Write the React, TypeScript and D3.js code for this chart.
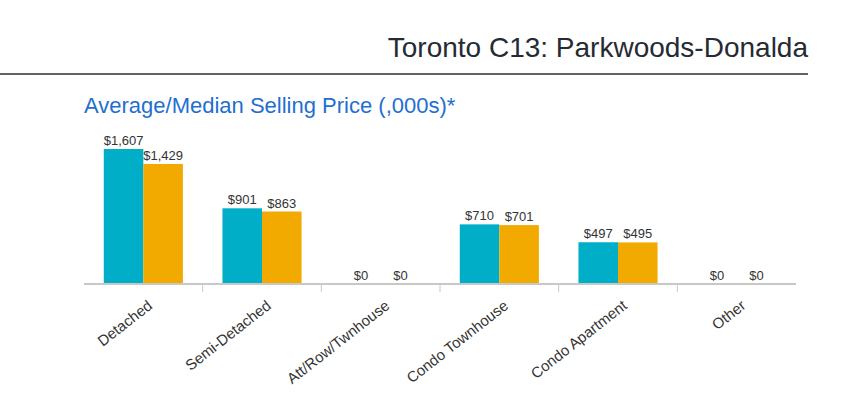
import React from "react";
import * as d3 from "d3";

const categories = ["Detached", "Semi-Detached", "Att/Row/Twnhouse", "Condo Townhouse", "Condo Apartment", "Other"];
const averagePrice = [1607, 901, 0, 710, 497, 0];
const medianPrice = [1429, 863, 0, 701, 495, 0];
const seriesNames = ["Average", "Median"];
const seriesColors = ["#00AEC7", "#F2A900"];

const W = 859;
const H = 397;
const margin = { left: 84, right: 63, top: 130, bottom: 113 };

export default function App() {
  const x = d3.scaleBand().domain(categories).range([margin.left, W - margin.right]).paddingInner(0).paddingOuter(0);
  const inner = d3.scaleBand().domain(seriesNames).range([0, x.bandwidth()]).paddingOuter(0.5).paddingInner(0);
  const y = d3.scaleLinear().domain([0, 1800]).range([H - margin.bottom, H - margin.bottom - 151.2]);
  const baseline = y(0);
  const fmt = (v: number) => "$" + d3.format(",")(v);
  const series = [averagePrice, medianPrice];
  const ticks = [...categories.map((c) => x(c) as number), W - margin.right];

  return (
    <svg width={W} height={H} style={{ position: "absolute", left: 0, top: 0 }} fontFamily="'Liberation Sans', Arial, sans-serif">
      <rect width={W} height={H} fill="#fff" />
      <text x={808} y={57} textAnchor="end" fontSize={28} fill="#262b33">Toronto C13: Parkwoods-Donalda</text>
      <line x1={0} x2={808} y1={74} y2={74} stroke="#2b2f36" strokeWidth={1.5} />
      <text x={84} y={113} fontSize={22} fill="#1F6FD1">Average/Median Selling Price (,000s)*</text>
      {categories.map((c, i) => (
        <g key={c} transform={`translate(${x(c)},0)`}>
          {series.map((s, j) => {
            const bx = inner(seriesNames[j]) as number;
            return (
              <g key={j}>
                {s[i] > 0 && (
                  <rect x={bx} y={y(s[i])} width={inner.bandwidth()} height={baseline - y(s[i])} fill={seriesColors[j]} />
                )}
                <text x={bx + inner.bandwidth() / 2} y={y(s[i]) - 4} textAnchor="middle" fontSize={13} fill="#333">{fmt(s[i])}</text>
              </g>
            );
          })}
        </g>
      ))}
      <line x1={margin.left} x2={W - margin.right} y1={baseline} y2={baseline} stroke="#c8c8c8" strokeWidth={2} />
      {ticks.slice(1, -1).map((t, i) => (
        <line key={i} x1={t} x2={t} y1={baseline} y2={baseline + 8} stroke="#c8c8c8" strokeWidth={1} />
      ))}
      {categories.map((c) => {
        const cx = (x(c) as number) + x.bandwidth() / 2;
        return (
          <text key={c} transform={`translate(${cx + 10},${baseline + 23.5}) rotate(-38)`} textAnchor="end" fontSize={15} fill="#333">{c}</text>
        );
      })}
    </svg>
  );
}
